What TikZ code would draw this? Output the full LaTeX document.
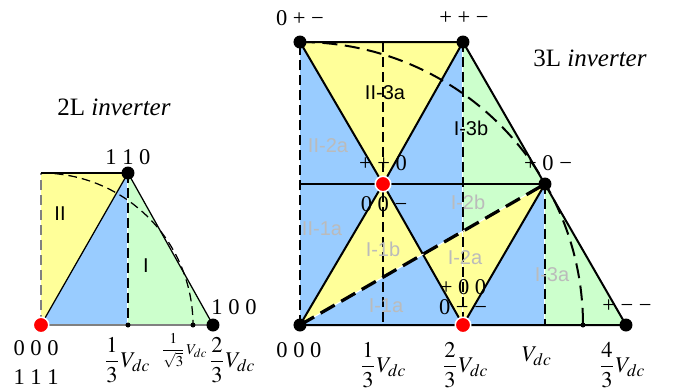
\documentclass[tikz,border=0pt]{standalone}
\usepackage{amsmath}
\usepackage{mathptmx}
\usepackage[no-math]{fontspec}
\setmainfont{Liberation Serif}
\setsansfont{Liberation Sans}
\usepackage{tikz}
\usetikzlibrary{calc}
\definecolor{secY}{HTML}{FFFF99}
\definecolor{secB}{HTML}{99CCFF}
\definecolor{secG}{HTML}{CCFFCC}
\definecolor{regGray}{HTML}{BBBBBB}
\tikzset{%
   % vertex dots: black for plain vectors, red for redundant ones
   dot/.style={
      circle,
      inner sep=0pt,
      outer sep=0pt,
      minimum size=5.2pt,
      fill=black
   },
   reddot/.style={
      circle,
      inner sep=0pt,
      outer sep=0pt,
      minimum size=6.2pt,
      fill=red,
      draw=white,
      line width=.6pt
   },
   tick/.style={
      circle,
      inner sep=0pt,
      minimum size=2pt,
      fill=black
   },
   edge/.style={line width=.8pt},
   thinedge/.style={line width=.5pt},
   guide/.style={
      line width=.6pt,
      dash pattern=on 4pt off 2pt,
      preaction={draw=white, solid}
   },
   ring/.style={
      line width=.8pt,
      dash pattern=on 6pt off 3pt
   },
   title/.style={font=\fontsize{10}{12}\selectfont},
   vlab/.style={font=\fontsize{9}{10}\selectfont, inner sep=0pt},
   axlab/.style={font=\fontsize{9}{10}\selectfont, inner sep=0pt},
   sect/.style={font=\sffamily\fontsize{8}{9}\selectfont, inner sep=0pt},
   faint/.style={sect, text=regGray},
}
\begin{document}
\begin{tikzpicture}[x=0.4pt, y=-0.4pt]
\useasboundingbox (0,0) rectangle (676,388);
% ---- 2L inverter
\coordinate (a0) at (41,325);
\coordinate (a1) at (213,325);
\coordinate (a2) at (128,173);
\coordinate (aK) at (41,173);
\coordinate (aS) at (128,325);
\coordinate (aR) at (193,325);
\fill[secY] (a0) -- (aK) -- (a2) -- cycle;
\fill[secB] (a0) -- (a2) -- (aS) -- cycle;
\fill[secG] (aS) -- (a2) -- (a1) -- cycle;
\draw[guide, draw=gray] (a0) -- (aK);
\draw[guide] (a2) -- (aS);
\draw[thinedge] (aK) -- (a2);
\draw[thinedge] (a0) -- (a2) -- (a1);
\draw[edge, draw=gray] (a0) -- (a1);
\draw[thinedge, dash pattern=on 3.5pt off 2pt] (aK) arc[start angle=-90, end angle=0, radius=152];
\node[tick] (ta1) at (aS) {};
\node[tick] (ta2) at (aR) {};
\node[reddot] (v000a) at (a0) {};
\node[dot] (v110) at (a2) {};
\node[dot] (v100) at (a1) {};
\node[sect] (secII) at (60,214) {II};
\node[sect] (secI) at (146,266) {I};
\node[title] (t2) at (114,107) {2L \textit{inverter}};
\node[vlab] (l110) at (128,157) {1 1 0};
\node[vlab] (l100) at (234,307) {1 0 0};
\node[vlab] (l000a) at (36,348) {0 0 0};
\node[vlab] (l111) at (36,377) {1 1 1};
\node[axlab] (xa1) at (127,360) {$\dfrac{1}{3}V_{dc}$};
\node[axlab, font=\fontsize{6}{7}\selectfont] (xa2) at (184,351) {$\dfrac{1}{\sqrt{3}}V_{dc}$};
\node[axlab] (xa3) at (232,360) {$\dfrac{2}{3}V_{dc}$};
% ---- 3L inverter
\coordinate (b0) at (300,325);
\coordinate (bA) at (463,325);
\coordinate (bD) at (626,325);
\coordinate (bB) at (383,184);
\coordinate (bC) at (545,184);
\coordinate (bE) at (300,42);
\coordinate (bF) at (463,42);
\coordinate (bG) at (300,184);
\coordinate (bH) at (545,325);
\coordinate (bT) at (383,42);
\coordinate (bU) at (383,325);
\coordinate (bR) at (583,325);
\coordinate (bM) at ($(bB)!.5!(bA)$);
\coordinate (bQ) at ($(b0)!2/3!(bC)$);
\fill[secB] (b0) -- (bE) -- (bF) -- (bD) -- cycle;
\fill[secY] (bE) -- (bF) -- (bB) -- cycle;
\fill[secY] (b0) -- (bB) -- (bM) -- cycle;
\fill[secY] (bM) -- (bC) -- (bA) -- cycle;
\fill[secG] (bF) -- (bC) -- (bQ) -- cycle;
\fill[secG] (bH) -- (bD) -- (bC) -- cycle;
\draw[guide] (b0) -- (bE);
\draw[line width=.6pt, dash pattern=on 4pt off 2pt] (bT) -- (bU);
\draw[guide] (bF) -- (bA);
\draw[guide] (bC) -- (bH);
\draw[thinedge] (bG) -- (bC);
\draw[edge] (bE) -- (bF) -- (bD) -- (b0);
\draw[edge] (bE) -- (bB) -- (bF);
\draw[edge] (b0) -- (bB) -- (bA) -- (bC);
\draw[line width=1.3pt, dash pattern=on 6.5pt off 3pt, preaction={draw=white, solid}] (b0) -- (bC);
\draw[ring] (bE) arc[start angle=-90, end angle=0, radius=283];
\node[tick] (tb1) at (bR) {};
\node[dot] (v000) at (b0) {};
\node[dot] (v0pm) at (bE) {};
\node[dot] (vppm) at (bF) {};
\node[dot] (vp0m) at (bC) {};
\node[dot] (vpmm) at (bD) {};
\node[reddot] (vpp0) at (bB) {};
\node[reddot] (vp00) at (bA) {};
\node[sect] (s3a) at (385,93) {II-3a};
\node[sect] (s3b) at (471,128) {I-3b};
\node[faint] (s2a) at (328,146) {II-2a};
\node[faint] (s1a) at (322,229) {II-1a};
\node[faint] (r1b) at (383,249) {I-1b};
\node[faint] (r1a) at (386,306) {I-1a};
\node[faint] (r2b) at (468,202) {I-2b};
\node[faint] (r2a) at (465,258) {I-2a};
\node[faint] (r3a) at (552,275) {I-3a};
\node[title] (t3) at (590,58) {3L \textit{inverter}};
\node[vlab] (l0pm) at (300,18) {0 + −};
\node[vlab] (lppm) at (464,18) {+ + −};
\node[vlab] (lpp0) at (383,163) {+ + 0};
\node[vlab] (l00m) at (384,204) {0 0 −};
\node[vlab] (lp0m) at (548,163) {+ 0 −};
\node[vlab] (lp00) at (463,287) {+ 0 0};
\node[vlab] (l0mm) at (463,307) {0 − −};
\node[vlab] (lpmm) at (627,306) {+ − −};
\node[vlab] (l000) at (299,350) {0 0 0};
\node[axlab] (xb1) at (383,365) {$\dfrac{1}{3}V_{dc}$};
\node[axlab] (xb2) at (465,365) {$\dfrac{2}{3}V_{dc}$};
\node[axlab] (xb3) at (537,356) {$V_{dc}$};
\node[axlab] (xb4) at (622,365) {$\dfrac{4}{3}V_{dc}$};
\end{tikzpicture}
\end{document}
